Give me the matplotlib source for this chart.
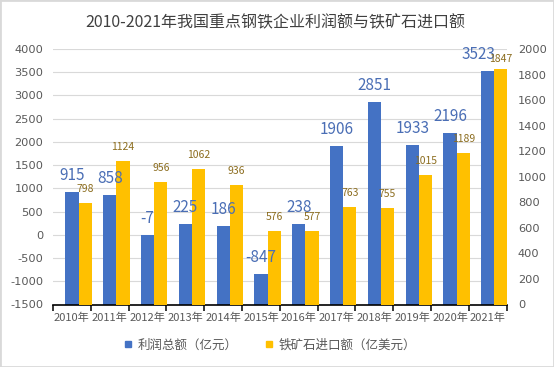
import matplotlib
matplotlib.use('Agg')
import matplotlib.pyplot as plt
import numpy as np
from matplotlib.lines import Line2D
from matplotlib.patches import Rectangle

years = ['2010年', '2011年', '2012年', '2013年', '2014年', '2015年',
         '2016年', '2017年', '2018年', '2019年', '2020年', '2021年']
profit = [915, 858, -7, 225, 186, -847, 238, 1906, 2851, 1933, 2196, 3523]
ore_import = [798, 1124, 956, 1062, 936, 576, 577, 763, 755, 1015, 1189, 1847]
left_ticks = list(range(-1500, 4001, 500))
right_ticks = list(range(0, 2001, 200))
title = '2010-2021年我国重点钢铁企业利润额与铁矿石进口额'
legend_labels = ['利润总额（亿元）', '铁矿石进口额（亿美元）']

BLUE = '#4472C4'
GOLD = '#FFC000'
BLUE_TXT = '#4A6EB5'
GOLD_TXT = '#8C6D1F'
GRAY = '#595959'
LBL = ['Noto Sans CJK SC', 'DejaVu Sans']

plt.rcParams['font.family'] = ['Noto Sans CJK SC', 'DejaVu Sans']
plt.rcParams['axes.unicode_minus'] = False

W, H = 554, 367
fig = plt.figure(figsize=(W / 100, H / 100), dpi=100)
ax = fig.add_axes([53 / W, 1 - 304.5 / H, (506.7 - 53) / W, (304.5 - 49) / H])
ax2 = ax.twinx()

x = np.arange(len(years))
bw = 0.35
floor_l = left_ticks[0]
floor_r = right_ticks[0]

ax.bar(x, [v - floor_l for v in profit], bottom=floor_l, width=bw, color=BLUE, zorder=2)
ax2.bar(x + bw, [v - floor_r for v in ore_import], bottom=floor_r, width=bw, color=GOLD, zorder=2)

ax.set_ylim(left_ticks[0], left_ticks[-1])
ax2.set_ylim(right_ticks[0], right_ticks[-1])
ax.set_xlim(-0.5, len(years) - 0.5)

ax.set_yticks(left_ticks)
ax.set_yticklabels([str(t) for t in left_ticks], family='DejaVu Sans')
ax2.set_yticks(right_ticks)
ax2.set_yticklabels([str(t) for t in right_ticks], family='DejaVu Sans')

ax.yaxis.grid(True, color='#D9D9D9', lw=0.8)
ax.set_axisbelow(True)

for s in ['left', 'right', 'top']:
    ax.spines[s].set_visible(False)
for s in ax2.spines.values():
    s.set_visible(False)
ax.spines['bottom'].set_color('black')
ax.spines['bottom'].set_linewidth(1.2)
ax.spines['bottom'].set_zorder(3)

ax.set_xticks(np.arange(-0.5, len(years), 1))
ax.tick_params(axis='x', which='major', length=4, width=1.1, color='black', labelbottom=False)
ax.set_xticks(x, minor=True)
ax.set_xticklabels(years, minor=True)
ax.tick_params(axis='x', which='minor', length=0, pad=6, labelsize=8, labelcolor=GRAY)

ax.tick_params(axis='y', length=0, pad=7, labelsize=8.2, labelcolor=GRAY)
ax2.tick_params(axis='y', length=0, pad=8, labelsize=8.2, labelcolor=GRAY)

# labels drawn on the top axes so bars never hide them
for i, v in enumerate(profit):
    dx = -6.5 if i == len(profit) - 1 else 0
    ax2.annotate(str(v), (x[i], v), xycoords=ax.transData, xytext=(dx, 12),
                 textcoords='offset points', ha='center', va='center', fontsize=11,
                 color=BLUE_TXT, family=LBL, zorder=5)
for i, v in enumerate(ore_import):
    dy = 7 if i == len(ore_import) - 1 else 10
    ax2.annotate(str(v), (x[i] + bw, v), xytext=(0, dy), textcoords='offset points',
                 ha='center', va='center', fontsize=7.5, color=GOLD_TXT,
                 family=LBL, zorder=5)

fig.text(275.5 / W, 1 - 23 / H, title, ha='center', va='center', fontsize=11.5, color='#404040')

handles = [Line2D([], [], ls='none', marker='s', markersize=4.5, color=BLUE),
           Line2D([], [], ls='none', marker='s', markersize=4.5, color=GOLD)]
fig.legend(handles, legend_labels, loc='center', bbox_to_anchor=(270 / W, 1 - 345 / H),
           ncol=2, frameon=False, fontsize=9, labelcolor=GRAY,
           handlelength=0.6, handletextpad=0.5, columnspacing=2.2)

fig.patches.append(Rectangle((0, 0), 1, 1, transform=fig.transFigure, fill=False,
                             edgecolor='#D9D9D9', lw=2))

fig.savefig('out.png', dpi=100)
